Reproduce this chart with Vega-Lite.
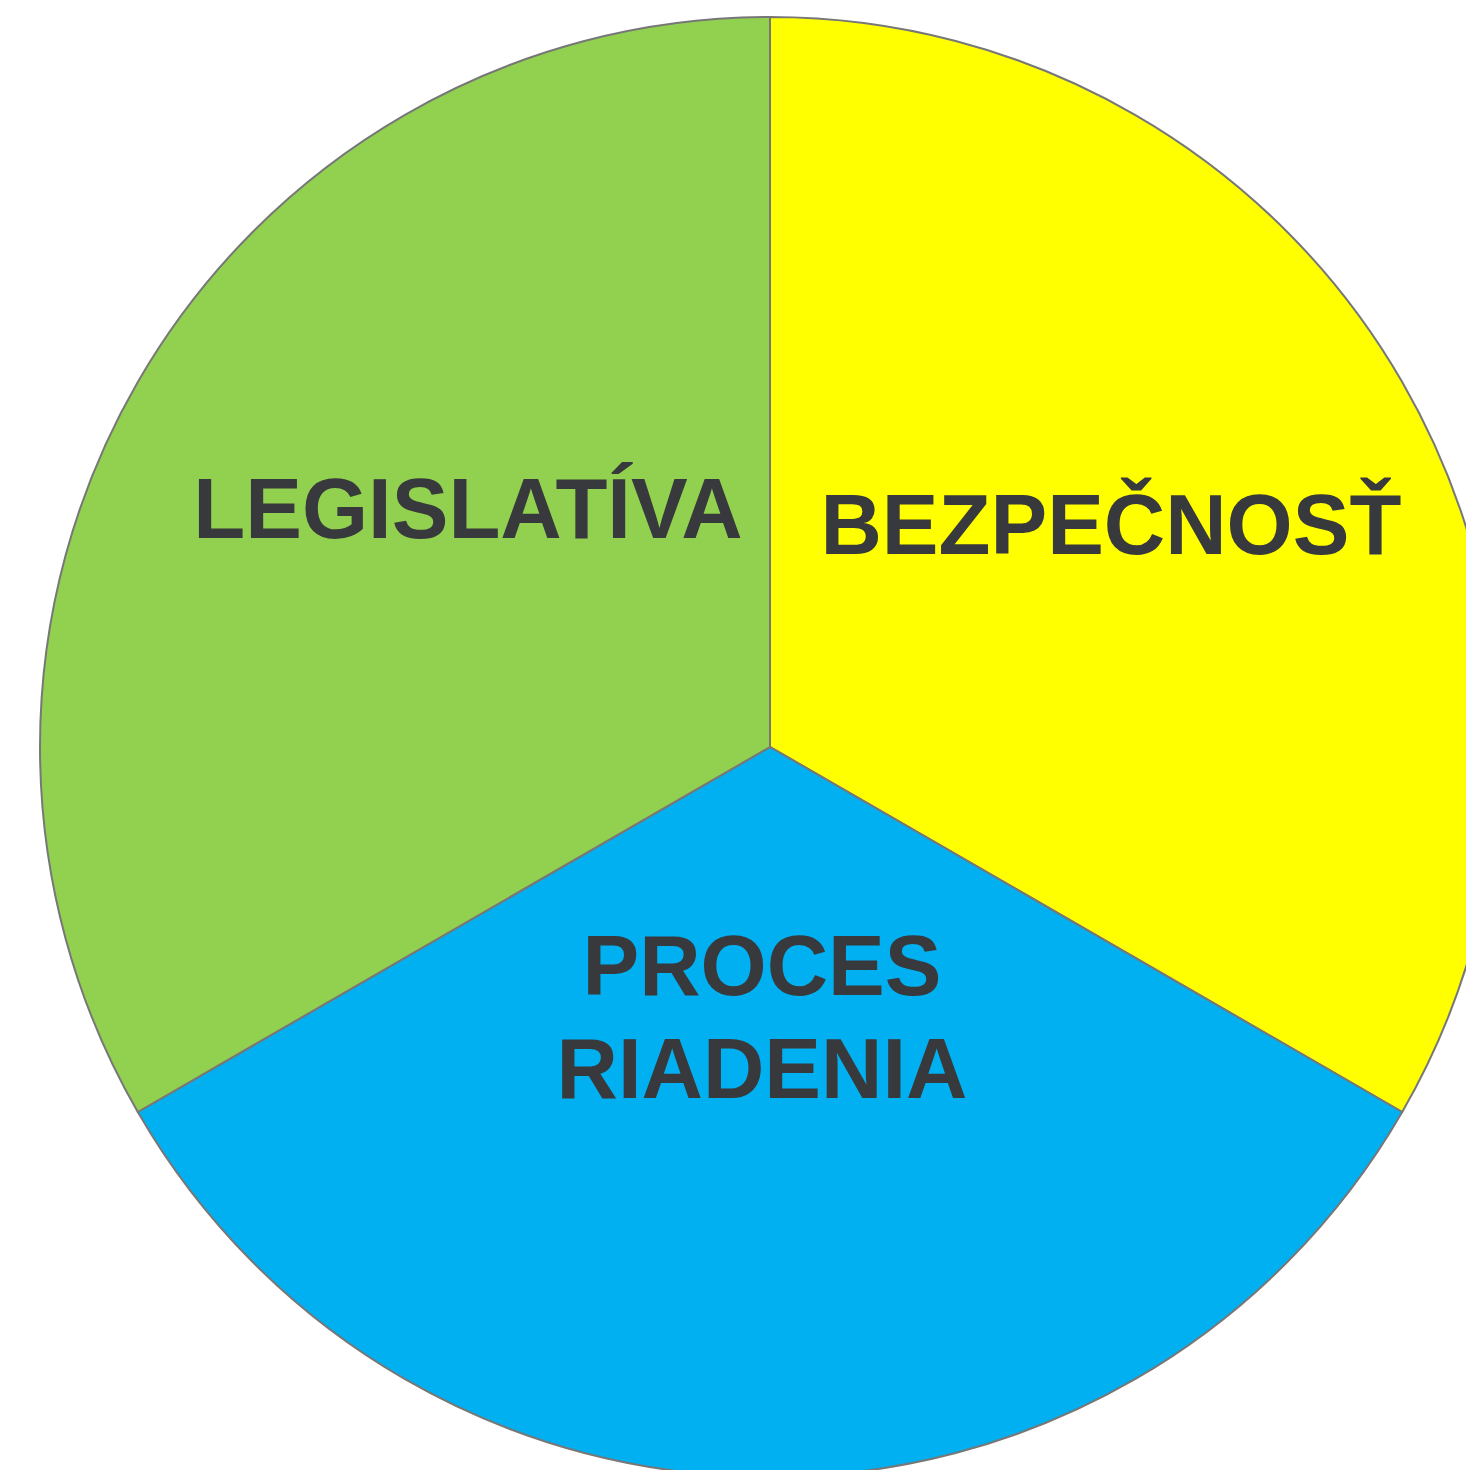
{
  "$schema": "https://vega.github.io/schema/vega-lite/v6.json",
  "width": 1540,
  "height": 1494,
  "autosize": {"type": "none"},
  "padding": 0,
  "background": "white",
  "config": {"view": {"stroke": null}},
  "data": {"values": [
    {"nazov": "BEZPEČNOSŤ", "label": "BEZPEČNOSŤ", "hodnota": 1, "poradie": 1},
    {"nazov": "PROCES RIADENIA", "label": "PROCES\nRIADENIA", "hodnota": 1, "poradie": 2},
    {"nazov": "LEGISLATÍVA", "label": "LEGISLATÍVA", "hodnota": 1, "poradie": 3}
  ]},
  "encoding": {
    "theta": {"field": "hodnota", "type": "quantitative", "stack": true},
    "order": {"field": "poradie", "type": "quantitative"}
  },
  "layer": [
    {
      "mark": {"type": "arc", "radius": 730, "stroke": "#777777", "strokeWidth": 2},
      "encoding": {
        "color": {"field": "nazov", "type": "nominal", "legend": null,
          "scale": {"domain": ["BEZPEČNOSŤ", "PROCES RIADENIA", "LEGISLATÍVA"], "range": ["#FFFF00", "#00B0F0", "#92D050"]}}
      }
    },
    {
      "mark": {"type": "text", "radius": 381, "dx": 28, "dy": -45, "font": "Liberation Sans", "fontWeight": "bold", "fontSize": 85, "fill": "#38393C", "align": "center", "baseline": "middle"},
      "encoding": {"text": {"condition": {"test": "datum.nazov === 'LEGISLATÍVA'", "field": "label"}, "value": ""}}
    },
    {
      "mark": {"type": "text", "radius": 404, "dx": -9, "dy": -17, "font": "Liberation Sans", "fontWeight": "bold", "fontSize": 85, "fill": "#38393C", "align": "center", "baseline": "middle"},
      "encoding": {"text": {"condition": {"test": "datum.nazov === 'BEZPEČNOSŤ'", "field": "label"}, "value": ""}}
    },
    {
      "mark": {"type": "text", "radius": 273, "dx": -8, "dy": -51, "font": "Liberation Sans", "fontWeight": "bold", "fontSize": 85, "lineHeight": 103, "lineBreak": "\n", "fill": "#38393C", "align": "center", "baseline": "middle"},
      "encoding": {"text": {"condition": {"test": "datum.nazov === 'PROCES RIADENIA'", "field": "label"}, "value": ""}}
    }
  ]
}
